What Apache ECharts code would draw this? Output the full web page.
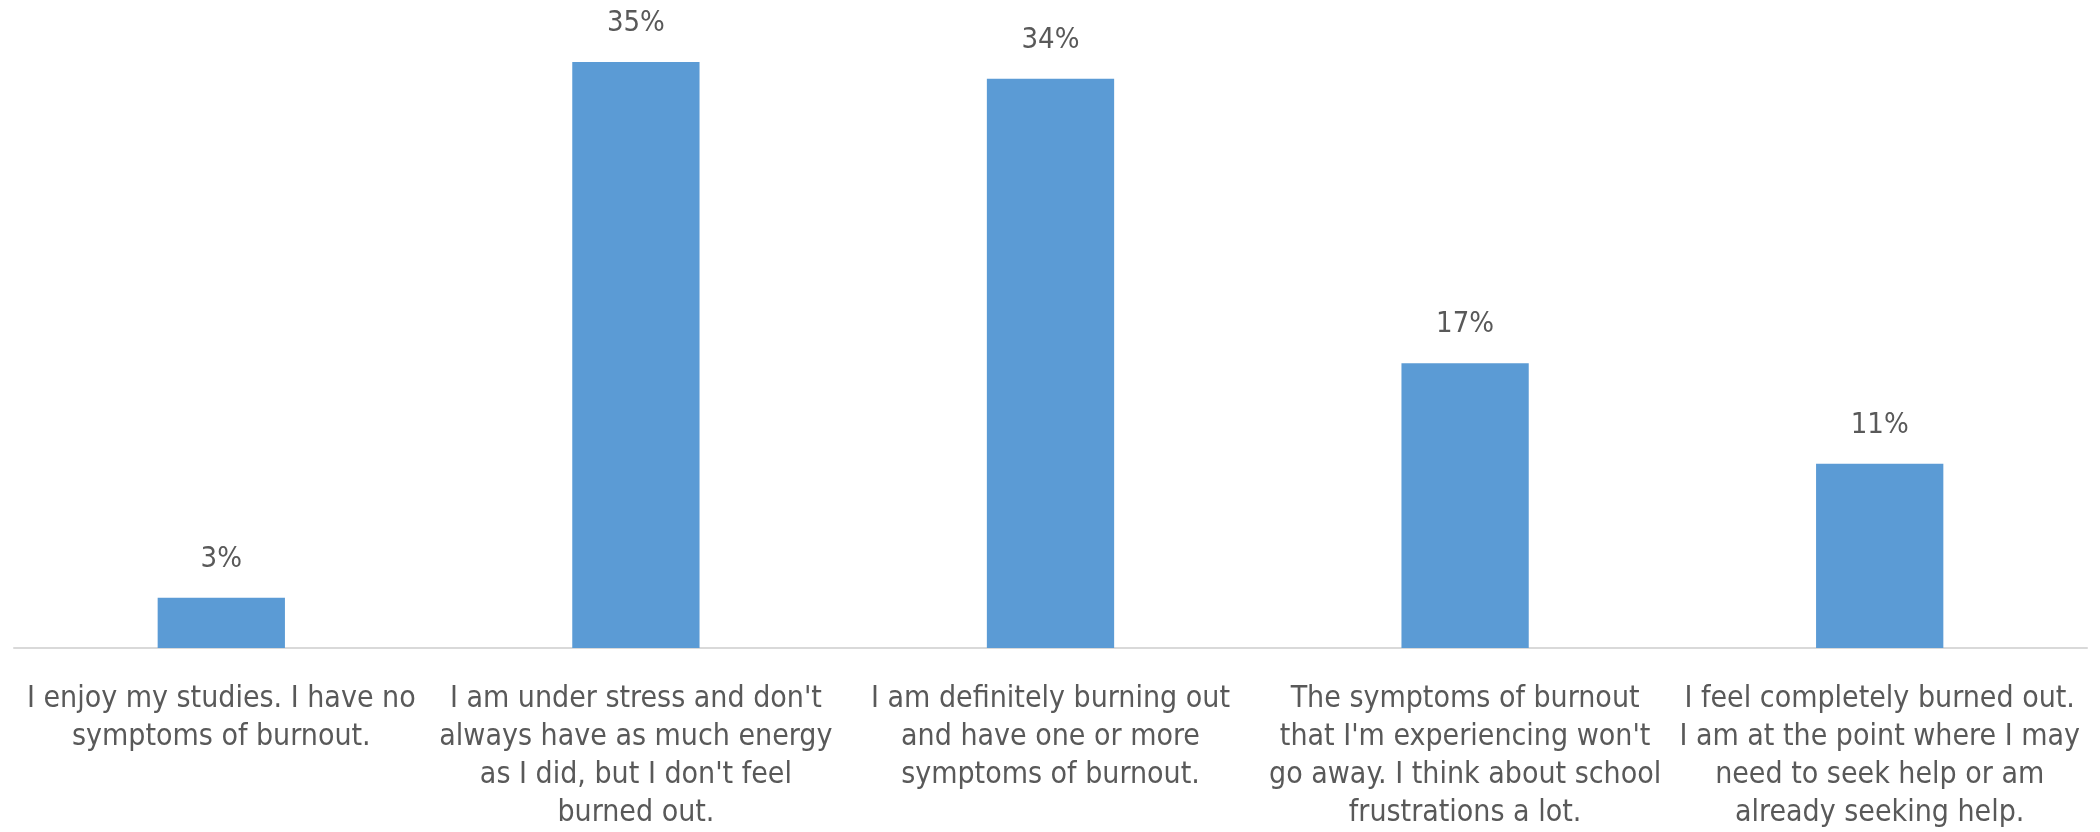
<!DOCTYPE html>
<html>
<head>
<meta charset="utf-8">
<script src="https://cdn.jsdelivr.net/npm/echarts@6/dist/echarts.min.js"></script>
<style>
  html, body { margin: 0; padding: 0; background: #ffffff; }
  #chart { width: 2100px; height: 832px; }
</style>
</head>
<body>
<div id="chart"></div>
<script>
// Survey responses: self-reported burnout level
const categories = [
  "I enjoy my studies. I have no\nsymptoms of burnout.",
  "I am under stress and don't\nalways have as much energy\nas I did, but I don't feel\nburned out.",
  "I am definitely burning out\nand have one or more\nsymptoms of burnout.",
  "The symptoms of burnout\nthat I'm experiencing won't\ngo away. I think about school\nfrustrations a lot.",
  "I feel completely burned out.\nI am at the point where I may\nneed to seek help or am\nalready seeking help."
];
const shares = [3, 35, 34, 17, 11];

const textColor = '#595959';
const fontFamily = "'Liberation Sans Narrow', 'DejaVu Sans Condensed', 'Liberation Sans', sans-serif";

const chart = echarts.init(document.getElementById('chart'), null, { renderer: 'canvas' });
chart.setOption({
  backgroundColor: '#ffffff',
  animation: false,
  grid: { left: 14, right: 13, top: 62, bottom: 184, containLabel: false },
  xAxis: {
    type: 'category',
    data: categories,
    axisLine: { lineStyle: { color: '#d9d9d9', width: 2 } },
    axisTick: { show: false },
    axisLabel: {
      interval: 0,
      color: textColor,
      fontFamily: fontFamily,
      fontSize: 30,
      lineHeight: 38,
      margin: 32
    }
  },
  yAxis: {
    type: 'value',
    min: 0,
    max: 35,
    show: false,
    splitLine: { show: false }
  },
  series: [{
    type: 'bar',
    data: shares,
    barWidth: '30.7%',
    itemStyle: { color: '#5b9bd5' },
    label: {
      show: true,
      position: 'top',
      distance: 24,
      color: textColor,
      fontFamily: fontFamily,
      fontSize: 29,
      formatter: p => p.value + '%'
    }
  }]
});
</script>
</body>
</html>
